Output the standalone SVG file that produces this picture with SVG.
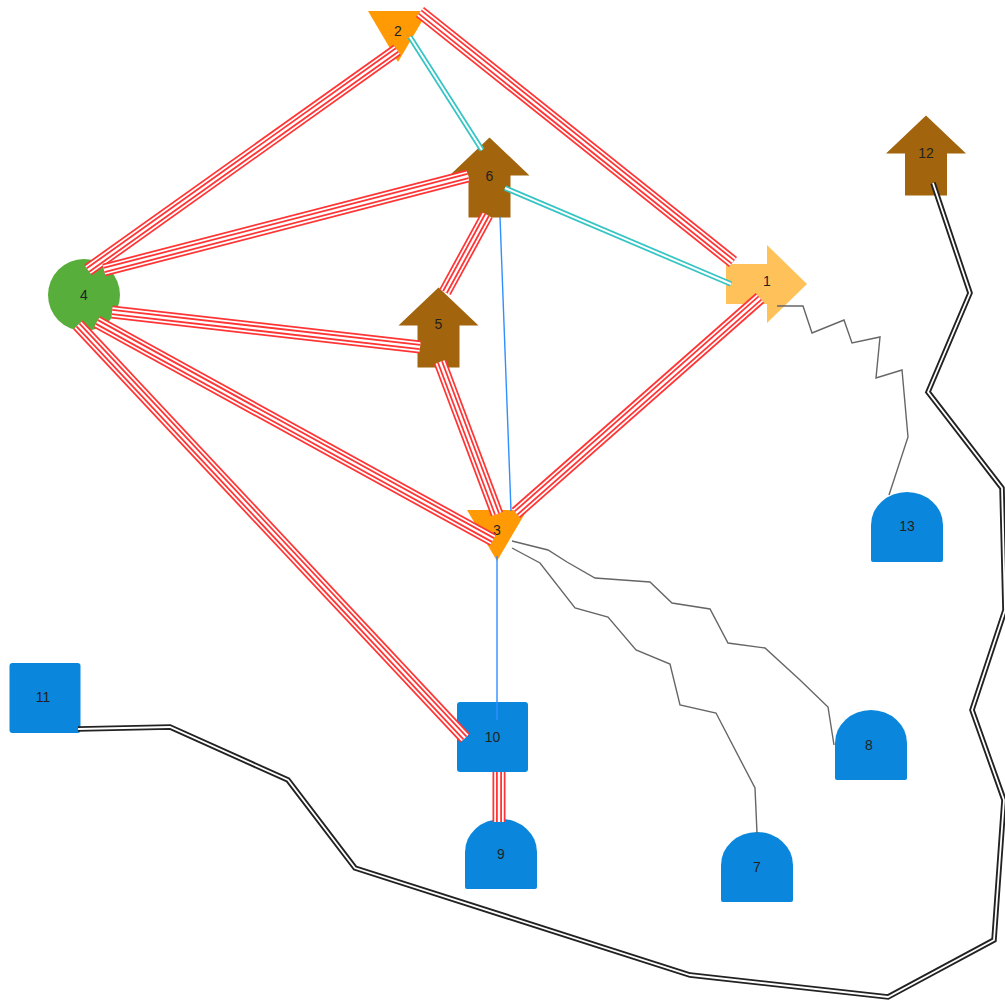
<svg xmlns="http://www.w3.org/2000/svg" xmlns:xlink="http://www.w3.org/1999/xlink" width="1005" height="1003" viewBox="0 0 1005 1003">
  <style>
    .lbl { font-family: "Liberation Sans", Arial, sans-serif; font-size: 14px; fill: #222; text-anchor: middle; dominant-baseline: central; }
    .orange { fill: #FF9A05; }
    .amber { fill: #FFC25A; }
    .brown { fill: #A2640C; }
    .green { fill: #57AE3A; }
    .blue { fill: #0A87DC; }
    .rA { fill: none; stroke: #FF3535; stroke-width: 13; }
    .rB { fill: none; stroke: #FFFFFF; stroke-width: 9.5; }
    .rC { fill: none; stroke: #FF3535; stroke-width: 6; }
    .rD { fill: none; stroke: #FFFFFF; stroke-width: 2.4; }
    .cA { fill: none; stroke: #36C4C4; stroke-width: 5.5; }
    .cB { fill: none; stroke: #FFFFFF; stroke-width: 2; }
    .kA { fill: none; stroke: #222222; stroke-width: 5.5; stroke-linejoin: miter; }
    .kB { fill: none; stroke: #FFFFFF; stroke-width: 1.8; stroke-linejoin: miter; }
    .thin { fill: none; stroke: #2F8FFF; stroke-width: 1.4; }
    .zig { fill: none; stroke: #666666; stroke-width: 1.4; stroke-linejoin: miter; }
  </style>
  <defs>
    <!-- node shapes, centred on the origin -->
    <path id="tri" d="M-30,-25 L30,-25 L0,26 Z"/>
    <path id="up" d="M0,-40 L40,-2 L21,-2 L21,40 L-21,40 L-21,-2 L-40,-2 Z"/>
    <path id="right" d="M-41,-20 L0,-20 L0,-39 L40,0 L0,39 L0,20 L-41,20 Z"/>
    <path id="stone" d="M-36,33 Q-36,35 -34,35 L34,35 Q36,35 36,33 L36,-2 A36,33 0 0 0 -36,-2 Z"/>
    <rect id="box" x="-35.5" y="-35" width="71" height="70" rx="3"/>
    <!-- connector paths -->
    <path id="e4-2" d="M88,270 L397,50"/>
    <path id="e2-1" d="M420,12 L733,262"/>
    <path id="e4-6" d="M104,270 L468,176"/>
    <path id="e4-5" d="M112,312 L420,347"/>
    <path id="e4-3" d="M97,322 L493,540"/>
    <path id="e4-10" d="M78,325 L465,738"/>
    <path id="e6-5" d="M487,215 L445,292"/>
    <path id="e5-3" d="M440,362 L497,514"/>
    <path id="e1-3" d="M760,298 L516,513"/>
    <path id="e10-9" d="M499,772 L499,822"/>
    <path id="e2-6" d="M410,37 L482,150"/>
    <path id="e6-1" d="M505,188 L731,284"/>
    <path id="e12-11" d="M933,183 L970,293 L928,392 L1002,488 L1005,610 L972,710 L1004,800 L994,940 L888,997 L690,975 L355,868 L288,780 L170,727 L78,729"/>
  </defs>

  <rect width="1005" height="1003" fill="#FFFFFF"/>

  <g id="node-1" transform="translate(767,284)">
    <use xlink:href="#right" class="amber"/>
    <text class="lbl" x="0" y="-3">1</text>
  </g>
  <g id="node-2" transform="translate(398,36)">
    <use xlink:href="#tri" class="orange"/>
    <text class="lbl" x="0" y="-5">2</text>
  </g>
  <g id="node-3" transform="translate(497,535)">
    <use xlink:href="#tri" class="orange"/>
    <text class="lbl" x="0" y="-5">3</text>
  </g>
  <g id="node-4" transform="translate(84,295)">
    <circle r="36" class="green"/>
    <text class="lbl" x="0" y="0">4</text>
  </g>
  <g id="node-5" transform="translate(438.5,327.5)">
    <use xlink:href="#up" class="brown"/>
    <text class="lbl" x="0" y="-4">5</text>
  </g>
  <g id="node-6" transform="translate(489.5,177.5)">
    <use xlink:href="#up" class="brown"/>
    <text class="lbl" x="0" y="-2">6</text>
  </g>
  <g id="node-7" transform="translate(757,867)">
    <use xlink:href="#stone" class="blue"/>
    <text class="lbl" x="0" y="0">7</text>
  </g>
  <g id="node-8" transform="translate(871,745)">
    <use xlink:href="#stone" class="blue"/>
    <text class="lbl" x="-2" y="0">8</text>
  </g>
  <g id="node-9" transform="translate(501,854)">
    <use xlink:href="#stone" class="blue"/>
    <text class="lbl" x="0" y="0">9</text>
  </g>
  <g id="node-10" transform="translate(492.5,737)">
    <use xlink:href="#box" class="blue"/>
    <text class="lbl" x="0" y="0">10</text>
  </g>
  <g id="node-11" transform="translate(45,698)">
    <use xlink:href="#box" class="blue"/>
    <text class="lbl" x="-2" y="-1">11</text>
  </g>
  <g id="node-12" transform="translate(926,155.5)">
    <use xlink:href="#up" class="brown"/>
    <text class="lbl" x="0" y="-3">12</text>
  </g>
  <g id="node-13" transform="translate(907,527)">
    <use xlink:href="#stone" class="blue"/>
    <text class="lbl" x="0" y="-1">13</text>
  </g>

  <g id="connectors">
    <!-- red four-strand links -->
    <g id="red-links">
      <use xlink:href="#e4-2" class="rA"/><use xlink:href="#e4-2" class="rB"/><use xlink:href="#e4-2" class="rC"/><use xlink:href="#e4-2" class="rD"/>
      <use xlink:href="#e2-1" class="rA"/><use xlink:href="#e2-1" class="rB"/><use xlink:href="#e2-1" class="rC"/><use xlink:href="#e2-1" class="rD"/>
      <use xlink:href="#e4-6" class="rA"/><use xlink:href="#e4-6" class="rB"/><use xlink:href="#e4-6" class="rC"/><use xlink:href="#e4-6" class="rD"/>
      <use xlink:href="#e4-5" class="rA"/><use xlink:href="#e4-5" class="rB"/><use xlink:href="#e4-5" class="rC"/><use xlink:href="#e4-5" class="rD"/>
      <use xlink:href="#e4-3" class="rA"/><use xlink:href="#e4-3" class="rB"/><use xlink:href="#e4-3" class="rC"/><use xlink:href="#e4-3" class="rD"/>
      <use xlink:href="#e4-10" class="rA"/><use xlink:href="#e4-10" class="rB"/><use xlink:href="#e4-10" class="rC"/><use xlink:href="#e4-10" class="rD"/>
      <use xlink:href="#e6-5" class="rA"/><use xlink:href="#e6-5" class="rB"/><use xlink:href="#e6-5" class="rC"/><use xlink:href="#e6-5" class="rD"/>
      <use xlink:href="#e5-3" class="rA"/><use xlink:href="#e5-3" class="rB"/><use xlink:href="#e5-3" class="rC"/><use xlink:href="#e5-3" class="rD"/>
      <use xlink:href="#e1-3" class="rA"/><use xlink:href="#e1-3" class="rB"/><use xlink:href="#e1-3" class="rC"/><use xlink:href="#e1-3" class="rD"/>
      <use xlink:href="#e10-9" class="rA"/><use xlink:href="#e10-9" class="rB"/><use xlink:href="#e10-9" class="rC"/><use xlink:href="#e10-9" class="rD"/>
    </g>
    <!-- teal double links -->
    <g id="teal-links">
      <use xlink:href="#e2-6" class="cA"/><use xlink:href="#e2-6" class="cB"/>
      <use xlink:href="#e6-1" class="cA"/><use xlink:href="#e6-1" class="cB"/>
    </g>
    <!-- thin blue links -->
    <path class="thin" d="M500,217 L511,511"/>
    <path class="thin" d="M497,556 L497,720"/>
    <!-- grey zigzag links -->
    <path class="zig" d="M777,306 L803,306 L812,333 L844,320 L852,343 L880,337 L876,378 L902,370 L908,437 L889,495"/>
    <path class="zig" d="M512,541 L548,550 L567,562 L595,578 L650,582 L672,603 L710,609 L728,643 L765,648 L800,680 L828,707 L834,745"/>
    <path class="zig" d="M512,548 L540,563 L575,608 L608,617 L636,650 L670,664 L680,705 L716,713 L755,788 L757,833"/>
    <!-- black double link -->
    <use xlink:href="#e12-11" class="kA"/><use xlink:href="#e12-11" class="kB"/>
  </g>
</svg>
